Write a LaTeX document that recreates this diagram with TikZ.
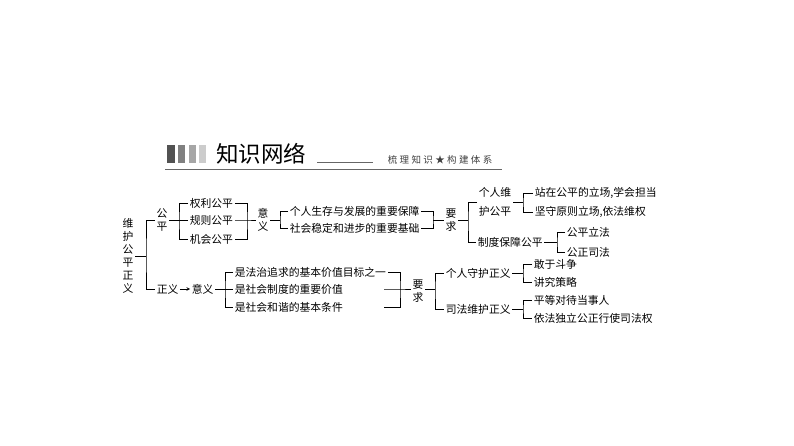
\documentclass[tikz,border=0pt]{standalone}
\usepackage{fontspec}
\setmainfont{Noto Sans CJK SC}
\begin{document}
\begin{tikzpicture}[>=stealth,x=1pt,y=-1pt,line width=0.6pt,
		lbl/.style={inner sep=1.5pt,font=\fontsize{10.8}{13}\selectfont},
		vlbl/.style={lbl,align=center}]
			\useasboundingbox (0,0) rectangle (794,446);
			\fill[black!68] (167,145) rectangle (175,163);
			\fill[black!50] (178,145) rectangle (185,163);
			\fill[black!35] (189,145) rectangle (196,163);
			\fill[black!20] (199,145) rectangle (206,163);
			\node[inner sep=0pt,font=\fontsize{22.5}{24}\selectfont] (title) at (261,154) {知识网络};
			\draw[black!60] (317,162) -- (373,162);
			\node[inner sep=0pt,font=\fontsize{9.5}{10}\selectfont\addfontfeature{LetterSpace=25},black!75] (subtitle) at (440,160) {梳理知识★构建体系};
			\draw[black!60,line width=0.8pt] (165,169) -- (502,169);
			\node[vlbl,font=\fontsize{10.8}{13}\selectfont] (root) at (128,256) {维\\护\\公\\平\\正\\义};
			\coordinate (r1) at (146,256);
			\draw (root.east) -- (r1);
			\node[vlbl] (gp) at (162,220) {公\\平};
			\node[lbl,anchor=west] (zy) at (155,289) {正义};
			\draw (gp.west) -| (r1) |- (zy.west);
			\coordinate (b2) at (179,220);
			\node[lbl,anchor=west] (qlgp) at (188,203) {权利公平};
			\node[lbl,anchor=west] (gzgp) at (188,220) {规则公平};
			\node[lbl,anchor=west] (jhgp) at (188,239) {机会公平};
			\draw (gp.east) -- (b2);
			\draw (qlgp.west) -| (b2) |- (jhgp.west);
			\draw (gzgp.west) -- (b2);
			\node[vlbl] (yy1) at (263,220) {意\\义};
			\coordinate (b3) at (247,220);
			\draw (qlgp.east) -| (b3) |- (jhgp.east);
			\draw (gzgp.east) -- (b3) -- (yy1.west);
			\coordinate (b4) at (280,220);
			\node[lbl,anchor=west] (bz) at (288,211) {个人生存与发展的重要保障};
			\node[lbl,anchor=west] (jc) at (288,228) {社会稳定和进步的重要基础};
			\draw (yy1.east) -- (b4);
			\draw (bz.west) -| (b4) |- (jc.west);
			\coordinate (b5) at (433,220);
			\node[vlbl] (yq1) at (451,220) {要\\求};
			\draw (bz.east) -| (b5) |- (jc.east);
			\draw (b5) -- (yq1.west);
			\coordinate (b6) at (468,220);
			\node[lbl,anchor=west,align=left,font=\fontsize{10.8}{19}\selectfont] (grwh) at (477,202) {个人维\\护公平};
			\node[lbl,anchor=west] (zdbz) at (476,242) {制度保障公平};
			\draw (yq1.east) -- (b6);
			\draw (grwh.west) -| (b6) |- (zdbz.west);
			\coordinate (b7) at (523,202);
			\node[lbl,anchor=west] (zz) at (533,193) {站在公平的立场,学会担当};
			\node[lbl,anchor=west] (jsh) at (533,212) {坚守原则立场,依法维权};
			\draw (grwh.east) -- (b7);
			\draw (zz.west) -| (b7) |- (jsh.west);
			\coordinate (b8) at (557,242);
			\node[lbl,anchor=west] (gplf) at (565,232) {公平立法};
			\node[lbl,anchor=west] (gzsf) at (565,252) {公正司法};
			\draw (zdbz.east) -- (b8);
			\draw (gplf.west) -| (b8) |- (gzsf.west);
			\node[lbl,anchor=west] (yy2) at (190,289) {意义};
			\draw[->] (zy.east) -- (yy2.west);
			\coordinate (b9) at (225,289);
			\node[lbl,anchor=west] (mb) at (233,272) {是法治追求的基本价值目标之一};
			\node[lbl,anchor=west] (jz) at (233,289) {是社会制度的重要价值};
			\node[lbl,anchor=west] (tj) at (233,307) {是社会和谐的基本条件};
			\draw (yy2.east) -- (b9);
			\draw (mb.west) -| (b9) |- (tj.west);
			\draw (jz.west) -- (b9);
			\coordinate (b10) at (400,289);
			\coordinate (s2) at (384,289);
			\coordinate (s3) at (384,307);
			\node[vlbl] (yq2) at (418,291) {要\\求};
			\draw (mb.east) -| (b10) |- (s3);
			\draw (s2) -- (b10) -- (yq2.west |- b10);
			\coordinate (b11) at (435,289);
			\node[lbl,anchor=west] (grsh) at (444,273) {个人守护正义};
			\node[lbl,anchor=west] (sfwh) at (444,309) {司法维护正义};
			\draw (yq2.east |- b11) -- (b11);
			\draw (grsh.west) -| (b11) |- (sfwh.west);
			\coordinate (b12) at (523,273);
			\node[lbl,anchor=west] (gy) at (532,264) {敢于斗争};
			\node[lbl,anchor=west] (jj) at (532,282) {讲究策略};
			\draw (grsh.east) -- (b12);
			\draw (gy.west) -| (b12) |- (jj.west);
			\coordinate (b13) at (523,309);
			\node[lbl,anchor=west] (pd) at (532,300) {平等对待当事人};
			\node[lbl,anchor=west] (yf) at (532,318) {依法独立公正行使司法权};
			\draw (sfwh.east) -- (b13);
			\draw (pd.west) -| (b13) |- (yf.west);
		\end{tikzpicture}
\end{document}
